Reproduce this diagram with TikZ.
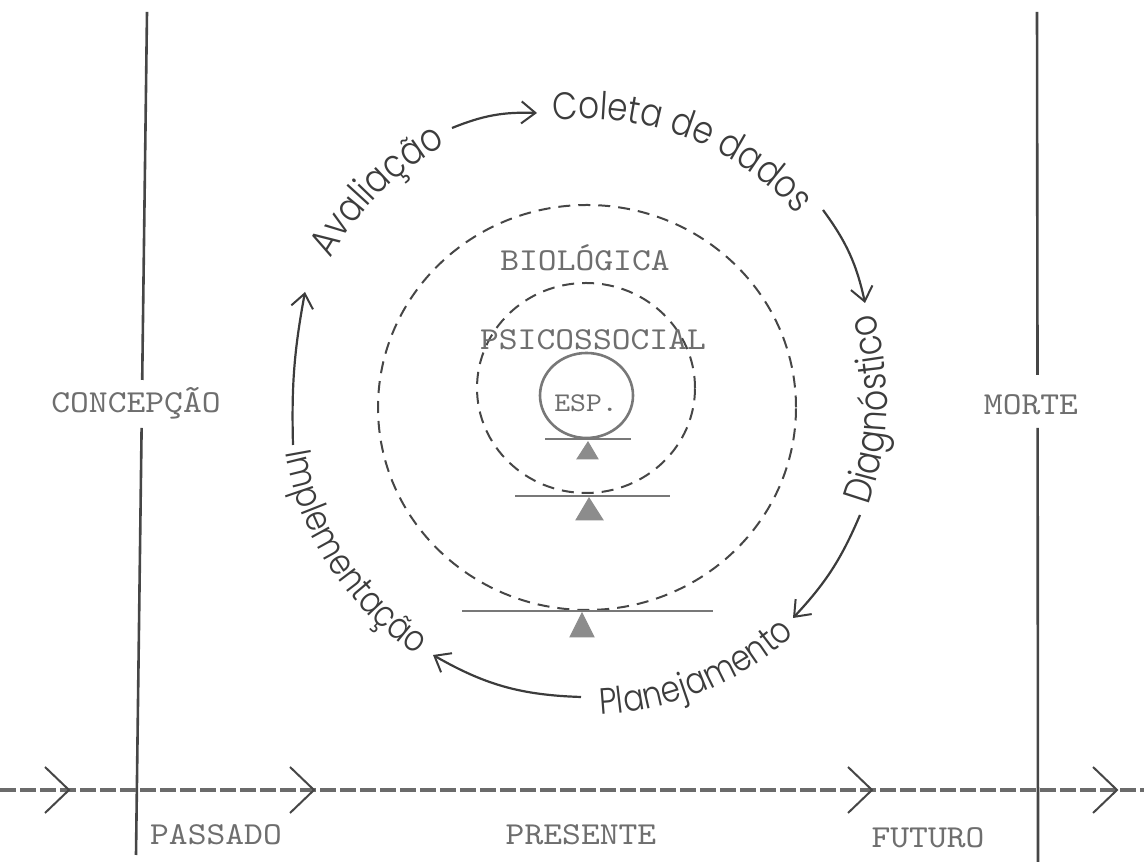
\documentclass[tikz,border=0pt]{standalone}
\usepackage{fontspec}
\IfFontExistsTF{Poppins Light}{\newfontfamily\hand{Poppins Light}[FakeStretch=0.85]}{\newfontfamily\hand{Poppins}[FakeStretch=0.85]}
\newfontfamily\tw{lmmono10-regular.otf}[FakeStretch=1.12]
\usetikzlibrary{decorations.text, arrows.meta}
\definecolor{ink}{RGB}{60,60,60}
\definecolor{typegray}{RGB}{110,110,110}
\definecolor{linegray}{RGB}{70,70,70}
\definecolor{beamgray}{RGB}{120,120,120}
\definecolor{fulgray}{RGB}{140,140,140}
\begin{document}
\begin{tikzpicture}[x=0.5pt,y=0.5pt,
  tw/.style={font=\tw\fontsize{16}{16}\selectfont, text=typegray, inner sep=0pt},
  twsmall/.style={font=\tw\fontsize{13.5}{13.5}\selectfont, text=typegray, inner sep=0pt},
  vline/.style={draw=linegray, line width=1.3pt},
  dcircle/.style={draw=linegray, line width=1pt, dash pattern=on 6pt off 4pt},
  spcircle/.style={draw=beamgray, line width=1.3pt},
  beam/.style={draw=beamgray, line width=1.1pt},
  fulcrum/.style={fill=fulgray, draw=fulgray, line width=0.5pt},
  cyc/.style={draw=ink, line width=1.1pt, -{Straight Barb[length=7pt,width=11pt,line width=1pt]}},
  handtext/.style n args={2}{decorate, decoration={text along path, text align=center,
     text={|\hand\fontsize{#2}{#2}\selectfont\color{ink}|#1}}},
  timeline/.style={draw=linegray!80, line width=1.6pt, dash pattern=on 8pt off 2pt},
  chev/.style={draw=linegray, line width=1pt},
]
\useasboundingbox (0,0) rectangle (1144,865);

% vertical lines and their labels
\coordinate (ltop) at (147,853);
\coordinate (lgapa) at (142.2,485);
\coordinate (lgapb) at (141.6,437);
\coordinate (lbot) at (136,10);
\coordinate (rtop) at (1037,853);
\coordinate (rgapa) at (1037.5,490);
\coordinate (rgapb) at (1037.6,437);
\coordinate (rbot) at (1038,3);
\draw[vline] (ltop) -- (lgapa);
\draw[vline] (lgapb) -- (lbot);
\draw[vline] (rtop) -- (rgapa);
\draw[vline] (rgapb) -- (rbot);
\node[tw] (concep) at (136,462) {CONCEPÇÃO};
\node[tw] (morte) at (1031,460) {MORTE};

% timeline
\coordinate (tla) at (0,75);
\coordinate (tlb) at (1144,75);
\draw[timeline] (tla) -- (tlb);
\foreach \cx in {69,314,872,1117}{
  \draw[chev] (\cx-24,98) -- (\cx,75) -- (\cx-24,52);
}
\node[tw] (passado) at (216,30) {PASSADO};
\node[tw] (presente) at (581,30) {PRESENTE};
\node[tw] (futuro) at (928,27) {FUTURO};

% circles
\draw[dcircle] (587,457.5) ellipse [x radius=209, y radius=202.5];
\draw[dcircle] (586,477) ellipse [x radius=109, y radius=105];
\draw[spcircle] (586.5,469.5) ellipse [x radius=46.5, y radius=42.5];

% balances
\draw[beam] (462,254) -- (713,254);
\filldraw[fulcrum] (582,252) -- (594,228) -- (570,228) -- cycle;
\draw[beam] (515,369) -- (670,369);
\filldraw[fulcrum] (589,367) -- (603,345) -- (576,345) -- cycle;
\draw[beam] (545,426) -- (631,426);
\filldraw[fulcrum] (588,423) -- (598,406) -- (577,406) -- cycle;

\node[tw] (bio) at (585,607) {BIOLÓGICA};
\node[tw] (psi) at (593,525) {PSICOSSOCIAL};
\node[twsmall] (esp) at (586,462) {ESP.};

% cycle texts
\coordinate (O) at (585,463);
\path[handtext={Coleta de dados}{19.2}] (O) ++(102:283) arc[start angle=102, end angle=36, radius=283];
\path[handtext={Avaliação}{19.5}] (O) ++(157:292) arc[start angle=157, end angle=112, radius=292];
\path[handtext={Diagnóstico}{19.5}] (O) ++(-22:302) arc[start angle=-22, end angle=19, radius=302];
\path[handtext={Planejamento}{18.3}] (O) ++(-88:313) arc[start angle=-88, end angle=-47, radius=313];
\path[handtext={Implementação}{18.2}] (O) ++(191:304) arc[start angle=191, end angle=235, radius=304];

% cycle arrows
\coordinate (aones) at (452,737);
\coordinate (aonee) at (537,752);
\coordinate (atwos) at (823,655);
\coordinate (atwoe) at (865,562);
\coordinate (athrs) at (860,350);
\coordinate (athre) at (793,247);
\coordinate (afours) at (581,168);
\coordinate (afoure) at (433,210);
\coordinate (afives) at (293,420);
\coordinate (afivee) at (305,573);
\draw[cyc] (aones) to[bend left=12] (aonee);
\draw[cyc] (atwos) to[bend left=12] (atwoe);
\draw[cyc] (athrs) to[bend left=10] (athre);
\draw[cyc] (afours) to[bend left=14] (afoure);
\draw[cyc] (afives) to[bend left=6] (afivee);
\end{tikzpicture}
\end{document}
